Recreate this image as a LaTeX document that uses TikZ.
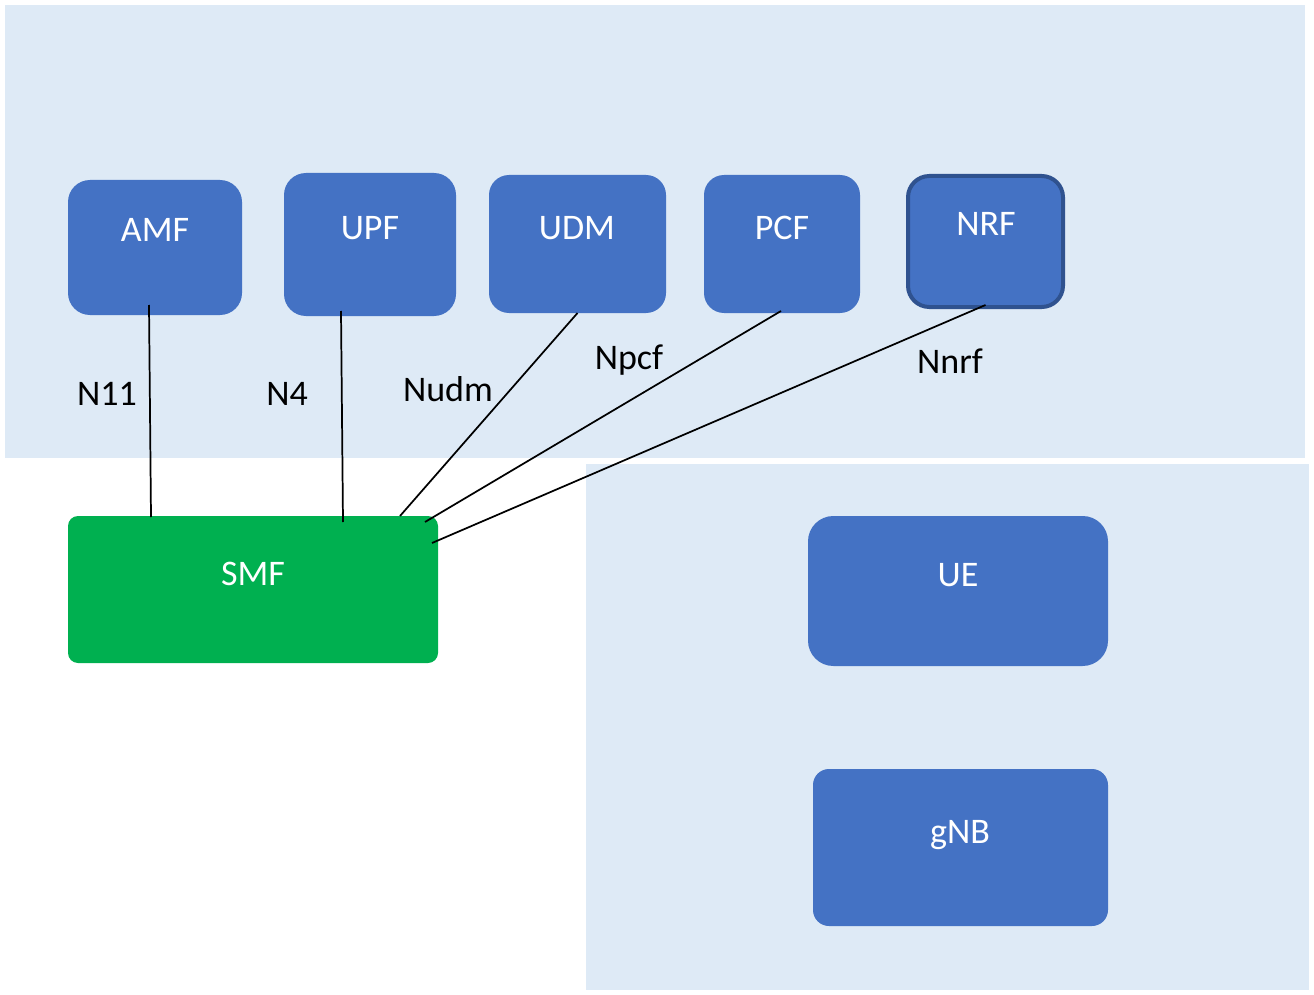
\documentclass[tikz,border=0pt]{standalone}
\usepackage{fontspec}
\setmainfont{Carlito}
\begin{document}
\begin{tikzpicture}[x=0.75pt,y=-0.75pt,
  every node/.style={inner sep=0pt, outer sep=0pt},
  zone/.style={fill=zonebg, draw=none},
  nf/.style={fill=nfblue, draw=none},
  nfedge/.style={fill=nfblue, draw=nfborder, line width=3pt},
  smfbox/.style={fill=smfgreen, draw=none, rounded corners=7.5pt},
  nflabel/.style={text=white, anchor=base, font=\fontsize{27}{32}\selectfont},
  iflabel/.style={text=black, anchor=base, font=\fontsize{27}{32}\selectfont},
  link/.style={draw=black, line width=1.3pt}]
\definecolor{zonebg}{HTML}{DEEAF6}
\definecolor{nfblue}{HTML}{4472C4}
\definecolor{nfborder}{HTML}{2F528F}
\definecolor{smfgreen}{HTML}{00B050}

% canvas
\useasboundingbox[fill=white] (0,0) rectangle (1314,995);

% core network and access network areas
\fill[zonebg] (5,5) rectangle (1305,458);
\fill[zonebg] (586,464) rectangle (1309,990);

% network functions
\node[nf, rounded corners=16.5pt, minimum width=174*0.75pt, minimum height=135*0.75pt] (amf) at (155,247.5) {};
\node[nf, rounded corners=16.5pt, minimum width=172*0.75pt, minimum height=143*0.75pt] (upf) at (370,244.5) {};
\node[nf, rounded corners=15pt, minimum width=177*0.75pt, minimum height=138*0.75pt] (udm) at (577.5,244) {};
\node[nf, rounded corners=15pt, minimum width=156*0.75pt, minimum height=138*0.75pt] (pcf) at (782,244) {};
\node[nfedge, rounded corners=16pt, minimum width=155*0.75pt, minimum height=131*0.75pt] (nrf) at (985.5,241.5) {};
\node[smfbox, minimum width=370*0.75pt, minimum height=147*0.75pt] (smf) at (253,589.5) {};
\node[nf, rounded corners=19pt, minimum width=300*0.75pt, minimum height=150*0.75pt] (ue) at (958,591) {};
\node[nf, rounded corners=12pt, minimum width=295*0.75pt, minimum height=157*0.75pt] (gnb) at (960.5,847.5) {};

% names
\node[nflabel] (tamf) at (155,242) {AMF};
\node[nflabel] (tupf) at (370,239) {UPF};
\node[nflabel] (tudm) at (577,239) {UDM};
\node[nflabel] (tpcf) at (782,239) {PCF};
\node[nflabel] (tnrf) at (986,235) {NRF};
\node[nflabel] (tsmf) at (253,585) {SMF};
\node[nflabel] (tue) at (958,586) {UE};
\node[nflabel] (tgnb) at (960,843) {gNB};

% reference points to the SMF
\draw[link] ([shift={(-6,-10)}]amf.south) -- ([shift={(83,1)}]smf.north west);
\draw[link] ([shift={(-29,-5)}]upf.south) -- ([shift={(275,6)}]smf.north west);
\draw[link] (udm.south) -- ([shift={(332,0)}]smf.north west);
\draw[link] ([shift={(-1,-2)}]pcf.south) -- ([shift={(-13,6)}]smf.north east);
\draw[link] ([shift={(0,-2)}]nrf.south) -- ([shift={(-6,27)}]smf.north east);

% interface names
\node[iflabel] (ln11) at (107,405) {N11};
\node[iflabel] (ln4) at (287,405) {N4};
\node[iflabel] (lnudm) at (448,401) {Nudm};
\node[iflabel] (lnpcf) at (629,369) {Npcf};
\node[iflabel] (lnnrf) at (950,373) {Nnrf};
\end{tikzpicture}
\end{document}
